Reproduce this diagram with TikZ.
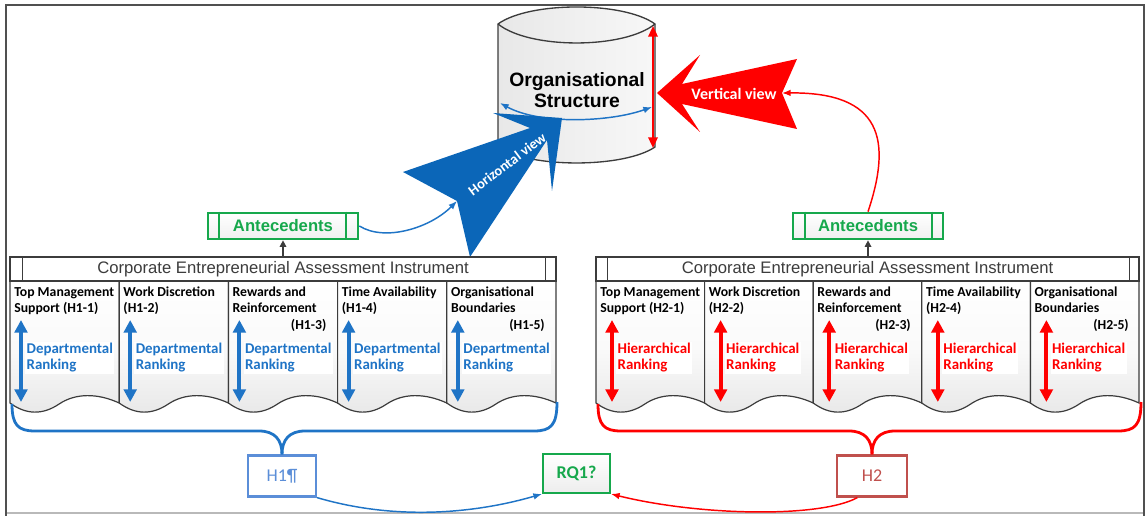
\documentclass[tikz,border=0pt]{standalone}
\usepackage{fontspec}
\setmainfont{Carlito}
\newfontfamily\arialf{Liberation Sans}
\usetikzlibrary{arrows.meta}
\definecolor{framec}{HTML}{505050}
\definecolor{dg}{HTML}{3C3C3C}
\definecolor{blfill}{HTML}{0B66B8}
\definecolor{blt}{HTML}{1F74C6}
\definecolor{rd}{HTML}{FF0000}
\definecolor{grn}{HTML}{16A84C}
\definecolor{hone}{HTML}{5B8ED8}
\definecolor{htwo}{HTML}{C0504D}
\tikzset{
  colbox/.style={draw=dg, line width=0.9pt, top color=white, bottom color=black!9, middle color=black!2},
  hdr/.style={font=\bfseries\fontsize{10.3}{12}\selectfont, anchor=base west, align=left, inner sep=0pt},
  tagn/.style={font=\bfseries\fontsize{10.3}{12}\selectfont, anchor=base east, inner sep=0pt},
  lab/.style={fill=white, font=\bfseries\fontsize{11.2}{12}\selectfont, anchor=west, align=left, inner sep=1pt},
  dblarrow/.style={line width=3pt, {Triangle[length=9.5pt,width=9.5pt]}-{Triangle[length=9.5pt,width=9.5pt]}},
  titlebar/.style={draw=dg, line width=0.9pt, fill=white, minimum height=18pt, inner sep=0pt},
  titletext/.style={font=\arialf\fontsize{12.5}{14}\selectfont, text=dg},
  antbox/.style={draw=grn, line width=2pt, top color=white, bottom color=black!6, minimum width=112.5pt, minimum height=19.5pt, inner sep=0pt, text=grn, font=\arialf\bfseries\fontsize{12.5}{14}\selectfont},
  hbox/.style={line width=1.7pt, fill=white, minimum height=30.75pt, inner sep=0pt, font=\fontsize{13.5}{15}\selectfont},
  gconn/.style={draw=dg, line width=0.9pt, -{Triangle[length=5pt,width=5pt]}},
  conn/.style={line width=1.1pt, -{Latex[length=6.5pt,width=5pt]}},
  brace/.style={line width=2.1pt}
}
\newcommand\ceaicol[7]{%
  \path[colbox] (#2,281) -- (#2,403)
    .. controls ({#2+0.15*(#3-#2)},415) and ({#2+0.3*(#3-#2)},415) .. ({#2+0.45*(#3-#2)},404)
    .. controls ({#2+0.6*(#3-#2)},393) and ({#2+0.8*(#3-#2)},393) .. (#3,403) -- (#3,281) -- cycle;
  \draw[dblarrow, #5] ({#2+#7},320) -- ({#2+#7},402);
  \node[hdr] (#1h) at ({#2+4},312.5) {#4};
  \node[lab, text=#5] (#1l) at ({#2+#7+4},358) {#6};
}
\begin{document}
\begin{tikzpicture}[x=0.75pt, y=-0.75pt]
\useasboundingbox (0,0) rectangle (1148,516);
% frame
\draw[gray!55, line width=0.8pt] (6,513) -- (1144,513);
\draw[framec, line width=1.6pt] (6,516) -- (6,5) -- (1144,5) -- (1144,516);

% cylinder
\path[draw=dg, line width=1pt, left color=black!9, right color=black!3] (498,24) -- (498,147) .. controls (529.4,168.3) and (623.6,168.3) .. (655,147) -- (655,24) .. controls (623.6,1.3) and (529.4,1.3) .. (498,24) -- cycle;
\draw[dg, line width=1pt] (498,24) .. controls (529.4,49.3) and (623.6,49.3) .. (655,24);
\node[font=\arialf\bfseries\fontsize{14.5}{15.75}\selectfont, align=center] (cyl) at (577,90) {Organisational\\Structure};
\draw[rd, line width=1.7pt, {Triangle[length=8pt,width=7pt]}-{Triangle[length=8pt,width=7pt]}] (653,26) -- (653,148);
\coordinate (hl) at (500,103);
\coordinate (hr) at (652,107);
\draw[blt, line width=1.1pt, {Latex[length=6.5pt,width=5pt]}-{Latex[length=6.5pt,width=5pt]}] (hl) .. controls (540,125) and (610,122) .. (hr);

% horizontal view arrow
\fill[blfill] (562,118) -- (552,191) -- (547,140) -- (470,257) -- (457,201) -- (403,172) -- (530,128) -- (493,113) -- cycle;
\coordinate (hnotch) at (457,201);
\node[rotate=37, text=white, font=\bfseries\fontsize{10.8}{12}\selectfont] (hview) at (507,164) {Horizontal view};

% vertical view arrow
\fill[rd] (657,93) -- (700,55) -- (682,84) -- (797,59) -- (782,93) -- (797,129) -- (682,104) -- (700,132) -- cycle;
\coordinate (vnotch) at (782,93);
\node[text=white, font=\bfseries\fontsize{12}{14}\selectfont] (vview) at (734,94) {Vertical view};

% left CEAI
\ceaicol{La}{10}{119.2}{Top Management\\Support (H1-1)}{blt}{Departmental\\Ranking}{11}
\ceaicol{Lb}{119.2}{228.4}{Work Discretion\\(H1-2)}{blt}{Departmental\\Ranking}{11}
\ceaicol{Lc}{228.4}{337.6}{Rewards and\\Reinforcement}{blt}{Departmental\\Ranking}{11}
\ceaicol{Ld}{337.6}{446.8}{Time Availability\\(H1-4)}{blt}{Departmental\\Ranking}{11}
\ceaicol{Le}{446.8}{556}{Organisational\\Boundaries}{blt}{Departmental\\Ranking}{11}
\node[tagn] (Lct) at (326.6,329.5) {(H1-3)};
\node[tagn] (Let) at (545,329.5) {(H1-5)};
\node[titlebar, minimum width=409.5pt] (ceaiL) at (283,269) {};
\draw[dg, line width=0.9pt] ([xshift=9.75pt]ceaiL.north west) -- ([xshift=9.75pt]ceaiL.south west);
\draw[dg, line width=0.9pt] ([xshift=-8.25pt]ceaiL.north east) -- ([xshift=-8.25pt]ceaiL.south east);
\node[titletext] (ceaiLt) at (ceaiL) {Corporate Entrepreneurial Assessment Instrument};

% right CEAI
\ceaicol{Ra}{596}{704.6}{Top Management\\Support (H2-1)}{rd}{Hierarchical\\Ranking}{16}
\ceaicol{Rb}{704.6}{813.2}{Work Discretion\\(H2-2)}{rd}{Hierarchical\\Ranking}{16}
\ceaicol{Rc}{813.2}{921.8}{Rewards and\\Reinforcement}{rd}{Hierarchical\\Ranking}{16}
\ceaicol{Rd}{921.8}{1030.4}{Time Availability\\(H2-4)}{rd}{Hierarchical\\Ranking}{16}
\ceaicol{Re}{1030.4}{1139}{Organisational\\Boundaries}{rd}{Hierarchical\\Ranking}{16}
\node[tagn] (Rct) at (911,329.5) {(H2-3)};
\node[tagn] (Ret) at (1129,329.5) {(H2-5)};
\node[titlebar, minimum width=407.25pt] (ceaiR) at (867.5,269) {};
\draw[dg, line width=0.9pt] ([xshift=9pt]ceaiR.north west) -- ([xshift=9pt]ceaiR.south west);
\draw[dg, line width=0.9pt] ([xshift=-7.5pt]ceaiR.north east) -- ([xshift=-7.5pt]ceaiR.south east);
\node[titletext] (ceaiRt) at (ceaiR) {Corporate Entrepreneurial Assessment Instrument};

% antecedents
\node[antbox] (antL) at (283,226) {Antecedents};
\draw[grn, line width=1.6pt] ([xshift=9pt]antL.north west) -- ([xshift=9pt]antL.south west);
\draw[grn, line width=1.6pt] ([xshift=-9.75pt]antL.north east) -- ([xshift=-9.75pt]antL.south east);
\node[antbox] (antR) at (868,226) {Antecedents};
\draw[grn, line width=1.6pt] ([xshift=9.75pt]antR.north west) -- ([xshift=9.75pt]antR.south west);
\draw[grn, line width=1.6pt] ([xshift=-9pt]antR.north east) -- ([xshift=-9pt]antR.south east);
\draw[gconn] (ceaiL.north -| antL.south) -- (antL.south);
\draw[gconn] (ceaiR.north -| antR.south) -- (antR.south);

% connectors to views
\draw[conn, blt] (antL.east) .. controls (385,242) and (430,228) .. (hnotch);
\draw[conn, rd] (antR.north) .. controls (892,140) and (882,92) .. (vnotch);

% hypothesis boxes
\node[hbox, draw=hone, text=hone, minimum width=51pt] (H1) at (282,476) {H1¶};
\node[hbox, draw=htwo, text=htwo, minimum width=52.5pt] (H2) at (872,476) {H2};
\node[hbox, draw=grn, text=grn, top color=white, bottom color=black!7, minimum width=50pt, minimum height=29pt, font=\bfseries\fontsize{13.5}{15}\selectfont] (RQ) at (576.5,473.5) {RQ1?};

% braces
\draw[brace, blt] (12,404) .. controls (12,425) and (18,431) .. (35,431) -- (259,431) .. controls (275,431) and (282,440) .. (H1.north);
\draw[brace, blt] (557,402) .. controls (557,425) and (551,431) .. (534,431) -- (305,431) .. controls (289,431) and (282,440) .. (H1.north);
\draw[brace, rd] (598,404) .. controls (598,425) and (604,431) .. (621,431) -- (849,431) .. controls (865,431) and (872,440) .. (H2.north);
\draw[brace, rd] (1141,402) .. controls (1141,425) and (1135,431) .. (1118,431) -- (895,431) .. controls (879,431) and (872,440) .. (H2.north);

% connectors to RQ1
\draw[conn, blt] (H1.south east) .. controls (400,522) and (480,512) .. (RQ.south west);
\draw[conn, rd] ([xshift=-11pt]H2.south) .. controls (820,518) and (700,516) .. (RQ.south east);
\end{tikzpicture}
\end{document}
